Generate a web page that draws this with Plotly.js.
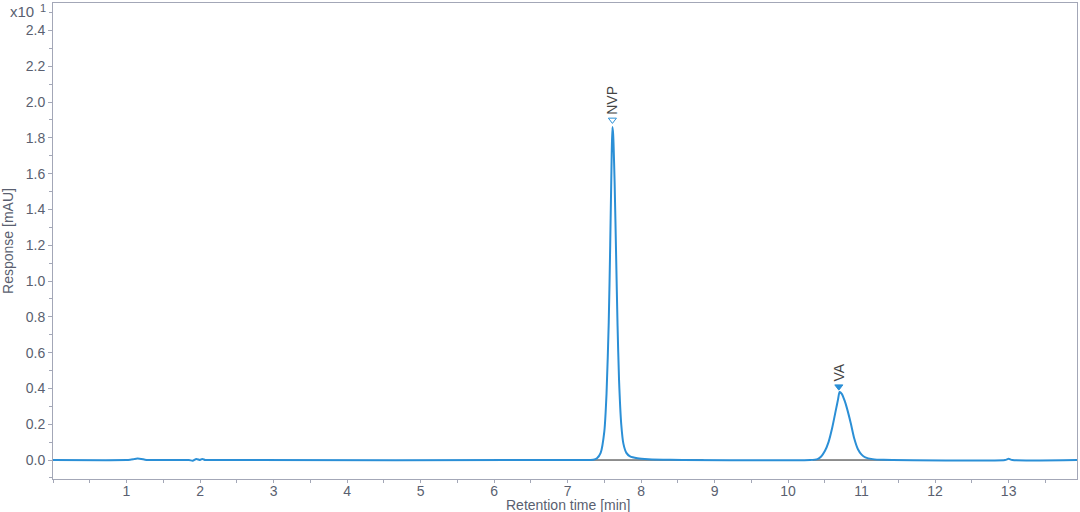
<!DOCTYPE html>
<html>
<head>
<meta charset="utf-8">
<script src="https://cdn.plot.ly/plotly-3.0.1.min.js"></script>
<style>html,body{margin:0;padding:0;background:#fff;}#chart{width:1080px;height:512px;}</style>
</head>
<body>
<div id="chart"></div>
<script>
// Chromatogram signal (x10^1 mAU)
const time = [0, 1.0, 1.05, 1.1, 1.15, 1.2, 1.25, 1.3, 1.85, 1.9, 1.95, 2.0, 2.03, 2.07, 2.12,
  7.2, 7.35, 7.40, 7.45, 7.50, 7.53, 7.56, 7.58, 7.60, 7.61, 7.62, 7.64, 7.66, 7.68, 7.70, 7.73, 7.76, 7.80, 7.85, 7.95, 8.1, 8.4,
  10.3, 10.40, 10.45, 10.50, 10.55, 10.60, 10.65, 10.68, 10.70, 10.73, 10.77, 10.80, 10.85, 10.90, 10.95, 11.00, 11.05, 11.15, 11.3,
  12.95, 13.0, 13.05, 13.93];
const response = [0, 0, 0.002, 0.005, 0.008, 0.006, 0.002, 0, 0, -0.004, 0.006, 0.0, 0.006, 0, 0,
  0, 0.002, 0.01, 0.04, 0.16, 0.37, 0.77, 1.20, 1.70, 1.86, 1.82, 1.55, 1.15, 0.75, 0.45, 0.20, 0.09, 0.04, 0.02, 0.01, 0.005, 0.002,
  0, 0.005, 0.02, 0.05, 0.10, 0.18, 0.28, 0.34, 0.38, 0.37, 0.33, 0.29, 0.21, 0.12, 0.06, 0.03, 0.015, 0.005, 0.001,
  0, 0.007, 0, 0];

// Integrated peaks
const peakNames = ["NVP", "VA"];
const peakTimes = [7.61, 10.69];
const peakMarkY = [1.90, 0.41];
const peakSymbols = ["triangle-down-open", "triangle-down"];
const baseStart = [7.31, 10.33];
const baseEnd = [8.85, 11.46];

const xTicks = [1,2,3,4,5,6,7,8,9,10,11,12,13];

const blue = '#2b8fd6';
const axisCol = '#a3a7b7';
const textCol = '#5a5f70';

const traces = [];
for (let i = 0; i < baseStart.length; i++) {
  traces.push({x: [baseStart[i], baseEnd[i]], y: [0, 0], mode: 'lines',
    line: {color: '#222', width: 1}, hoverinfo: 'skip', showlegend: false});
}
traces.push({x: time, y: response, mode: 'lines', line: {color: blue, width: 2, shape: 'spline', smoothing: 0.6}, showlegend: false});
for (let i = 0; i < peakNames.length; i++) {
  traces.push({x: [peakTimes[i]], y: [peakMarkY[i]], mode: 'markers',
    marker: {symbol: peakSymbols[i], size: 7, color: blue, line: {color: blue, width: 1}}, showlegend: false});
}

const annotations = peakNames.map((n, i) => ({
  x: peakTimes[i], y: peakMarkY[i], xref: 'x', yref: 'y', text: n, showarrow: false,
  textangle: -90, yanchor: 'bottom', yshift: 3, xshift: 0,
  font: {family: 'Liberation Sans, Arial', size: 14, color: '#444'}
}));
annotations.push({xref: 'paper', yref: 'paper', x: 0.5, y: -0.055, yanchor: 'middle', xanchor: 'center',
  text: 'Retention time [min]', showarrow: false, xshift: 3,
  font: {family: 'Liberation Sans, Arial', size: 14, color: textCol}});
annotations.push({xref: 'paper', yref: 'paper', x: -0.044, y: 0.5, textangle: -90, xanchor: 'center', yanchor: 'middle',
  text: 'Response [mAU]', showarrow: false,
  font: {family: 'Liberation Sans, Arial', size: 14, color: textCol}});
annotations.push({xref: 'paper', yref: 'paper', x: -0.0166, y: 0.999, xanchor: 'right', yanchor: 'middle',
  text: 'x10', showarrow: false, yshift: -8,
  font: {family: 'Liberation Sans, Arial', size: 15, color: textCol}});
annotations.push({xref: 'paper', yref: 'paper', x: -0.0166, y: 0.999, xanchor: 'left', yanchor: 'middle',
  text: '1', showarrow: false, xshift: 2, yshift: -5,
  font: {family: 'Liberation Sans, Arial', size: 11, color: textCol}});

const layout = {
  width: 1080, height: 512,
  margin: {l: 53, r: 3, t: 3, b: 33},
  paper_bgcolor: '#fff', plot_bgcolor: '#fff',
  font: {family: 'Liberation Sans, Arial', size: 14, color: textCol},
  xaxis: {range: [0, 13.93], tickvals: xTicks, ticks: 'outside', ticklen: 3, tickcolor: axisCol,
    ticklabelstandoff: -4,
    showline: true, linecolor: axisCol, linewidth: 1, mirror: true, showgrid: false, zeroline: false,
    minor: {dtick: 0.5, tick0: 0, ticks: 'outside', ticklen: 3, tickcolor: axisCol, showgrid: false},
    tickfont: {size: 14, color: textCol}},
  yaxis: {range: [-0.106, 2.553], dtick: 0.2, tick0: 0, tickformat: '.1f', ticks: 'outside', ticklen: 4, tickcolor: axisCol,
    showline: true, linecolor: axisCol, linewidth: 1, mirror: true, showgrid: false, zeroline: false,
    minor: {dtick: 0.1, tick0: 0, ticks: 'outside', ticklen: 3, tickcolor: axisCol, showgrid: false},
    tickfont: {size: 14, color: textCol}},
  annotations: annotations,
  showlegend: false
};

Plotly.newPlot('chart', traces, layout, {displayModeBar: false, staticPlot: true});
</script>
</body>
</html>
